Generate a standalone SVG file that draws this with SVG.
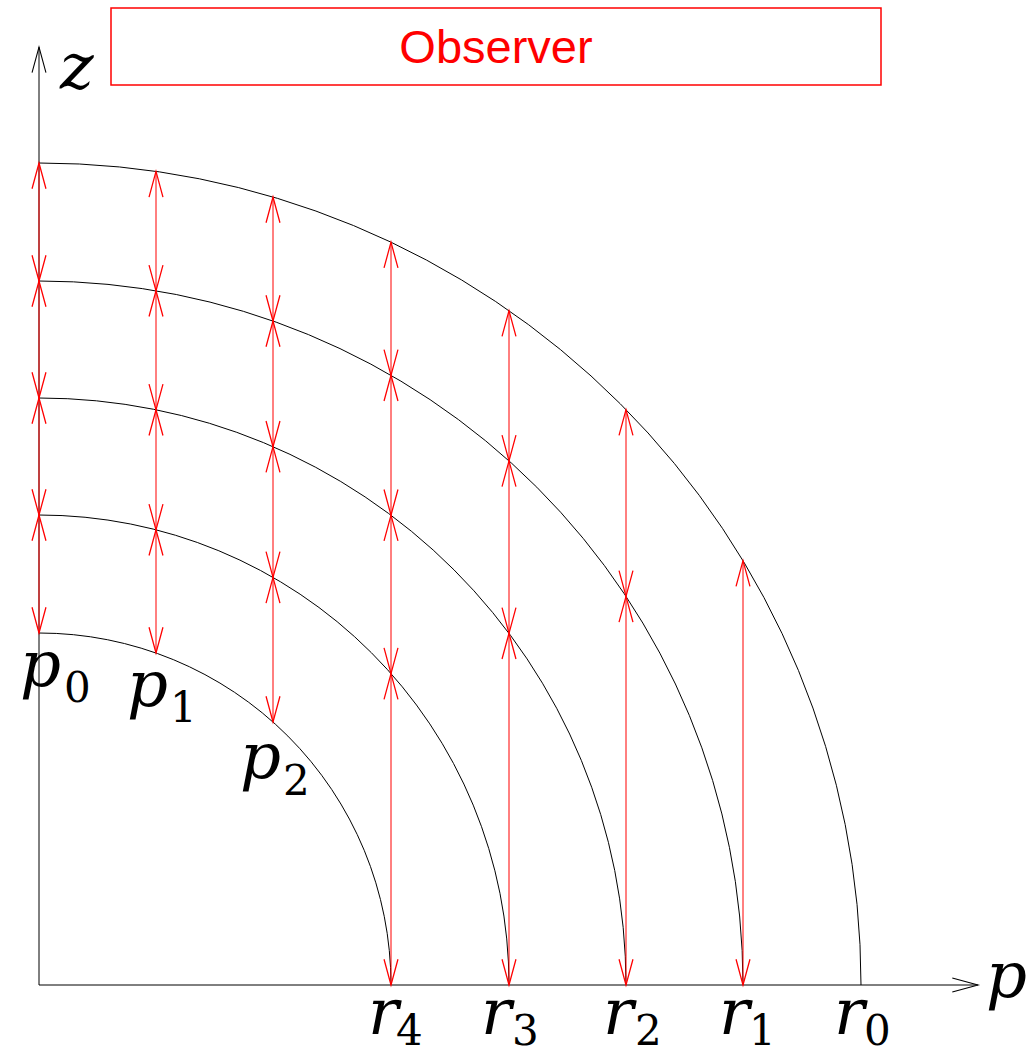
<svg xmlns="http://www.w3.org/2000/svg" width="1029" height="1054" viewBox="0 0 1029 1054">
<defs>
<marker id="ra" markerUnits="userSpaceOnUse" markerWidth="30" markerHeight="20" viewBox="-26 -8 28 16" refX="0" refY="0" orient="auto-start-reverse" overflow="visible">
<path d="M-24,-6.5 L0,0 L-24,6.5" fill="none" stroke="#ff0000" stroke-width="1.2"/>
</marker>
<marker id="ka" markerUnits="userSpaceOnUse" markerWidth="30" markerHeight="20" viewBox="-26 -8 28 16" refX="0" refY="0" orient="auto" overflow="visible">
<path d="M-24,-6.5 L0,0 L-24,6.5" fill="none" stroke="#000" stroke-width="1"/>
</marker>
</defs>
<style>
.arc{fill:none;stroke:#000;stroke-width:1}
.axis{fill:none;stroke:#000;stroke-width:1}
.dim{stroke:#ff0000;stroke-width:1;fill:none;marker-start:url(#ra);marker-end:url(#ra)}
.v{font-family:"DejaVu Serif","Liberation Serif",serif;font-style:italic;font-size:64px;fill:#000}
.s{font-family:"DejaVu Serif","Liberation Serif",serif;font-size:42px;fill:#000}
.obs{font-family:"Liberation Sans",Arial,sans-serif;font-size:47px;fill:#ff0000}
</style>
<g id="observer">
<rect x="111" y="8" width="770" height="77" fill="none" stroke="#ff0000" stroke-width="1.5"/>
<text class="obs" x="496" y="63" text-anchor="middle">Observer</text>
</g>
<g id="axes">
<line class="axis" x1="39" y1="985" x2="39" y2="47" marker-end="url(#ka)"/>
<line class="axis" x1="39" y1="985" x2="978" y2="985" marker-end="url(#ka)"/>
</g>
<g id="arcs">
<path class="arc" d="M39,163 A822,822 0 0 1 861,985"/>
<path class="arc" d="M39,281 A704,704 0 0 1 743,985"/>
<path class="arc" d="M39,398 A587,587 0 0 1 626,985"/>
<path class="arc" d="M39,515 A470,470 0 0 1 509,985"/>
<path class="arc" d="M39,633 A352,352 0 0 1 391,985"/>
</g>
<g id="connectors">
<line class="dim" x1="39" y1="163" x2="39" y2="281"/>
<line class="dim" x1="39" y1="281" x2="39" y2="398"/>
<line class="dim" x1="39" y1="398" x2="39" y2="515"/>
<line class="dim" x1="39" y1="515" x2="39" y2="633"/>
<line class="dim" x1="156" y1="171.4" x2="156" y2="290.8"/>
<line class="dim" x1="156" y1="290.8" x2="156" y2="409.8"/>
<line class="dim" x1="156" y1="409.8" x2="156" y2="529.8"/>
<line class="dim" x1="156" y1="529.8" x2="156" y2="653"/>
<line class="dim" x1="273" y1="197" x2="273" y2="321"/>
<line class="dim" x1="273" y1="321" x2="273" y2="446.7"/>
<line class="dim" x1="273" y1="446.7" x2="273" y2="577.4"/>
<line class="dim" x1="273" y1="577.4" x2="273" y2="722"/>
<line class="dim" x1="391" y1="242.2" x2="391" y2="375.3"/>
<line class="dim" x1="391" y1="375.3" x2="391" y2="515.2"/>
<line class="dim" x1="391" y1="515.2" x2="391" y2="673.6"/>
<line class="dim" x1="391" y1="673.6" x2="391" y2="985"/>
<line class="dim" x1="509" y1="310.6" x2="509" y2="460.9"/>
<line class="dim" x1="509" y1="460.9" x2="509" y2="633.3"/>
<line class="dim" x1="509" y1="633.3" x2="509" y2="985"/>
<line class="dim" x1="626" y1="409.6" x2="626" y2="596.4"/>
<line class="dim" x1="626" y1="596.4" x2="626" y2="985"/>
<line class="dim" x1="743" y1="560.7" x2="743" y2="985"/>
</g>
<g id="labels">
<text class="v" x="60" y="88">z</text>
<text class="v" x="986" y="997">p</text>
<text class="v" x="20" y="686">p</text><text class="s" x="64" y="702">0</text>
<text class="v" x="127" y="706">p</text><text class="s" x="170" y="722">1</text>
<text class="v" x="240" y="778">p</text><text class="s" x="283" y="795">2</text>
<text class="v" x="368" y="1034">r</text><text class="s" x="396" y="1045">4</text>
<text class="v" x="481" y="1034">r</text><text class="s" x="512" y="1045">3</text>
<text class="v" x="603" y="1034">r</text><text class="s" x="635" y="1045">2</text>
<text class="v" x="719" y="1034">r</text><text class="s" x="749" y="1045">1</text>
<text class="v" x="834" y="1034">r</text><text class="s" x="864" y="1045">0</text>
</g>
</svg>
